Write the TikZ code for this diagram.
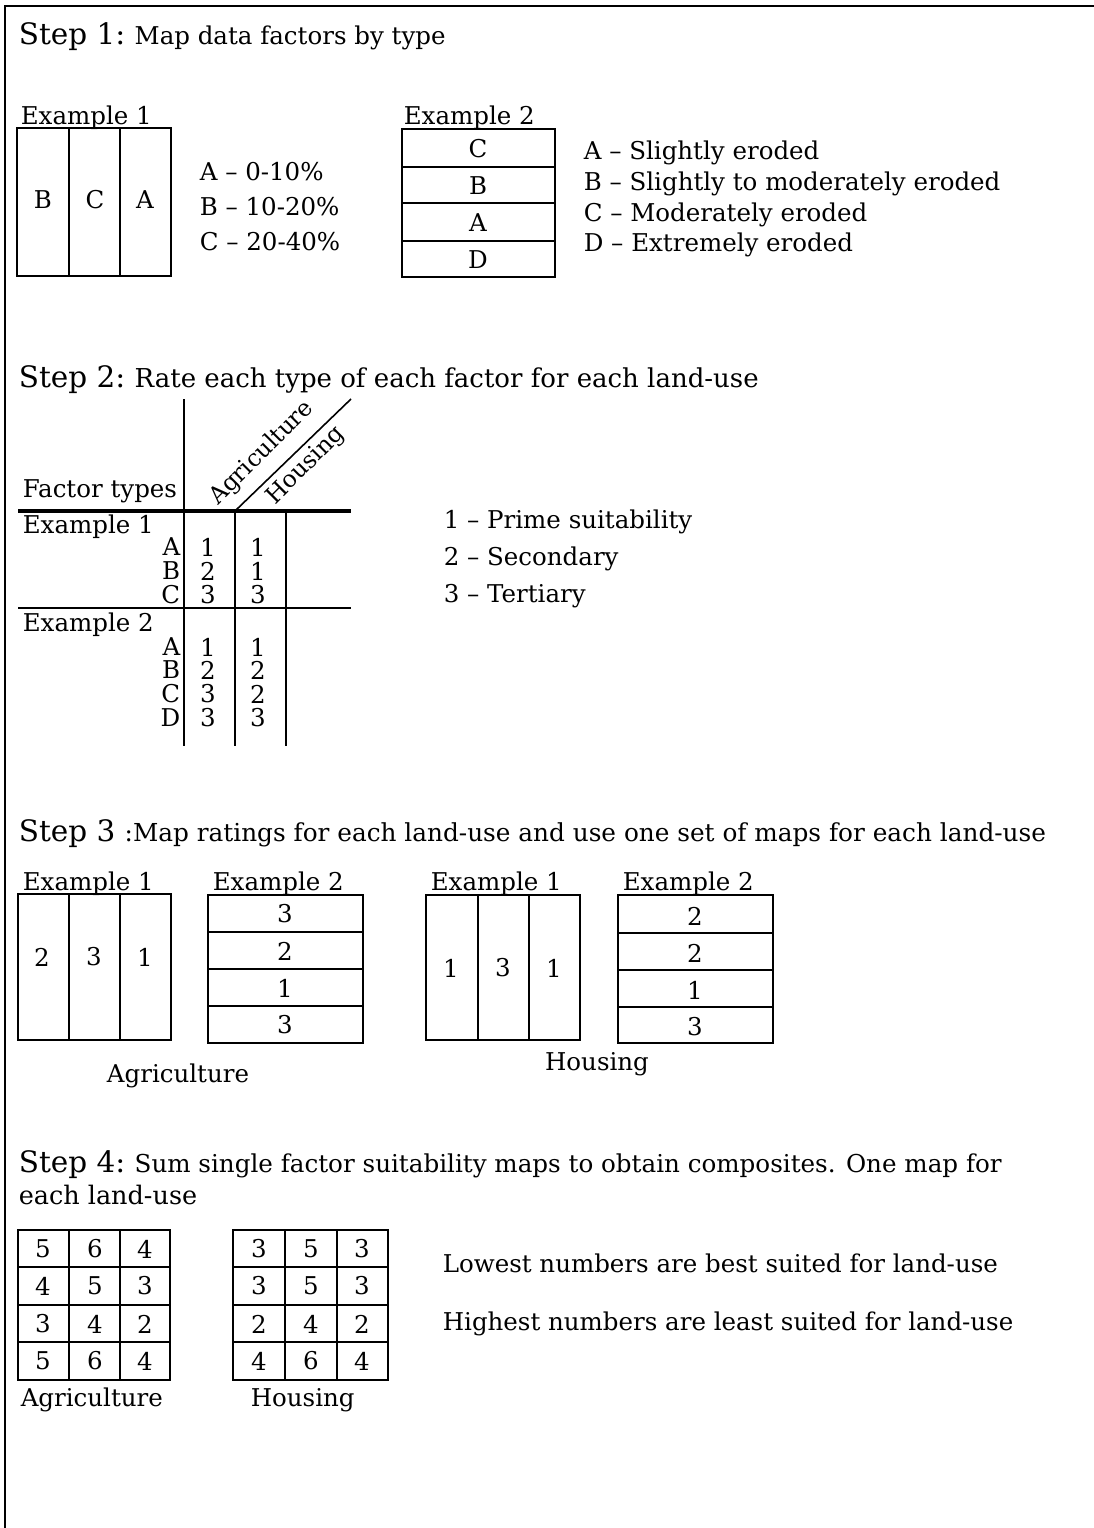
\documentclass[tikz,border=0pt]{standalone}
\usepackage{fontspec}
\setmainfont{DejaVu Serif}
\newcommand{\stepfont}{\fontsize{29.5}{34}\selectfont}
\newcommand{\fsz}[1]{\fontsize{#1}{#1}\selectfont}
\begin{document}
\begin{tikzpicture}[x=1pt,y=-1pt,line width=1.6pt,
  txt/.style={inner sep=0pt,font=\fontsize{24.5}{28}\selectfont},
  diag/.style={inner sep=0pt,font=\fontsize{23.5}{26}\selectfont,rotate=45},
  hd/.style={inner sep=0pt,anchor=base west},
  frame/.style={line width=1.3pt}]
\useasboundingbox (0,0) rectangle (1094,1528);
\draw[frame] (5,1528) -- (5,6) -- (1094,6);

% ---------- Step 1
\node[hd] (h1) at (18,45) {\stepfont Step 1:\ \fsz{24.5}Map data factors by type};
\node[txt,anchor=base west] (e11) at (20,124) {Example 1};
\draw (17,128) rectangle (171,276);
\draw (69,128) -- (69,276) (120,128) -- (120,276);
\node[txt] (s1b) at (43,200) {B};
\node[txt] (s1c) at (95,200) {C};
\node[txt] (s1a) at (145,200) {A};
\node[txt,anchor=west] (l1a) at (199,172) {A – 0-10\%};
\node[txt,anchor=west] (l1b) at (199,207) {B – 10-20\%};
\node[txt,anchor=west] (l1c) at (199,242) {C – 20-40\%};
\node[txt,anchor=base west] (e12) at (403,124) {Example 2};
\draw (402,129) rectangle (555,277);
\draw (402,167) -- (555,167) (402,203) -- (555,203) (402,241) -- (555,241);
\node[txt] (r2c) at (478,149) {C};
\node[txt] (r2b) at (478,186) {B};
\node[txt] (r2a) at (478,223) {A};
\node[txt] (r2d) at (478,260) {D};
\node[txt,anchor=west] (m1a) at (583,153) {A – Slightly eroded};
\node[txt,anchor=west] (m1b) at (583,184) {B – Slightly to moderately eroded};
\node[txt,anchor=west] (m1c) at (583,215) {C – Moderately eroded};
\node[txt,anchor=west] (m1d) at (583,245) {D – Extremely eroded};

% ---------- Step 2
\node[hd] (h2) at (18,387) {\stepfont Step 2:\ \fsz{26}Rate each type of each factor for each land-use};
\coordinate (v1t) at (184,399); \coordinate (v1b) at (184,746);
\coordinate (v2t) at (235,511); \coordinate (v2b) at (235,746);
\coordinate (v3t) at (286,511); \coordinate (v3b) at (286,746);
\coordinate (dt) at (351,399);
\draw (v1t) -- (v1b);
\draw (v2t) -- (v2b);
\draw (v3t) -- (v3b);
\draw (v2t) -- (dt);
\draw[line width=4.5pt] (18,511) -- (351,511);
\draw (18,608) -- (351,608);
\node[txt,anchor=base west] (ft) at (22,497) {Factor types};
\node[diag] (agr) at (262,453) {Agriculture};
\node[diag] (hou) at (306,466) {Housing};
\node[txt,anchor=west] (t1) at (22,527) {Example 1};
\foreach \n/\y/\a/\b in {A/547/1/1,B/571/2/1,C/595/3/3}{
  \node[txt,anchor=east] (t1\n) at (181,\y) {\n};
  \node[txt] (t1\n a) at (208,\y) {\a};
  \node[txt] (t1\n h) at (258,\y) {\b};
}
\node[txt,anchor=west] (t2) at (22,625) {Example 2};
\foreach \n/\y/\a/\b in {A/647/1/1,B/670/2/2,C/694/3/2,D/718/3/3}{
  \node[txt,anchor=east] (t2\n) at (181,\y) {\n};
  \node[txt] (t2\n a) at (208,\y) {\a};
  \node[txt] (t2\n h) at (258,\y) {\b};
}
\node[txt,anchor=west] (k1) at (443,522) {1 – Prime suitability};
\node[txt,anchor=west] (k2) at (443,559) {2 – Secondary};
\node[txt,anchor=west] (k3) at (443,596) {3 – Tertiary};

% ---------- Step 3
\node[hd] (h3) at (18,841) {\stepfont Step 3\ \fsz{24.75}:Map ratings for each land-use and use one set of maps for each land-use};
% agriculture ex1
\node[txt,anchor=base west] (a31) at (22,890) {Example 1};
\draw (18,894) rectangle (171,1040);
\draw (69,894) -- (69,1040) (120,894) -- (120,1040);
\node[txt] (a31a) at (42,957) {2};
\node[txt] (a31b) at (94,957) {3};
\node[txt] (a31c) at (145,957) {1};
% agriculture ex2
\node[txt,anchor=base west] (a32) at (212,890) {Example 2};
\draw (208,895) rectangle (363,1043);
\draw (208,932) -- (363,932) (208,969) -- (363,969) (208,1006) -- (363,1006);
\node[txt] (a32a) at (285,914) {3};
\node[txt] (a32b) at (285,951) {2};
\node[txt] (a32c) at (285,988) {1};
\node[txt] (a32d) at (285,1025) {3};
% housing ex1
\node[txt,anchor=base west] (h31) at (430,890) {Example 1};
\draw (426,895) rectangle (580,1040);
\draw (478,895) -- (478,1040) (529,895) -- (529,1040);
\node[txt] (h31a) at (451,968) {1};
\node[txt] (h31b) at (503,968) {3};
\node[txt] (h31c) at (554,968) {1};
% housing ex2
\node[txt,anchor=base west] (h32) at (622,890) {Example 2};
\draw (618,895) rectangle (773,1043);
\draw (618,933) -- (773,933) (618,970) -- (773,970) (618,1007) -- (773,1007);
\node[txt] (h32a) at (695,916) {2};
\node[txt] (h32b) at (695,953) {2};
\node[txt] (h32c) at (695,990) {1};
\node[txt] (h32d) at (695,1027) {3};
\node[txt] (agl) at (178,1076) {Agriculture};
\node[txt] (hol) at (597,1064) {Housing};

% ---------- Step 4
\node[hd] (h4) at (18,1172) {\stepfont Step 4:\ \fsz{24.6}Sum single factor suitability maps to obtain composites. One map for};
\node[hd] (h4b) at (18,1204) {\fsz{25.5}each land-use};
\draw (18,1230) rectangle (170,1380);
\draw (69,1230) -- (69,1380) (120,1230) -- (120,1380);
\draw (18,1267) -- (170,1267) (18,1305) -- (170,1305) (18,1342) -- (170,1342);
\draw (233,1230) rectangle (388,1380);
\draw (285,1230) -- (285,1380) (337,1230) -- (337,1380);
\draw (233,1267) -- (388,1267) (233,1305) -- (388,1305) (233,1342) -- (388,1342);
\foreach \r/\y/\a/\b/\c/\d/\e/\f in {1/1249/5/6/4/3/5/3,2/1286/4/5/3/3/5/3,3/1324/3/4/2/2/4/2,4/1361/5/6/4/4/6/4}{
  \node[txt] (ga\r1) at (43,\y) {\a};
  \node[txt] (ga\r2) at (95,\y) {\b};
  \node[txt] (ga\r3) at (145,\y) {\c};
  \node[txt] (gh\r1) at (259,\y) {\d};
  \node[txt] (gh\r2) at (311,\y) {\e};
  \node[txt] (gh\r3) at (362,\y) {\f};
}
\node[txt,anchor=west] (g4a) at (20,1400) {Agriculture};
\node[txt,anchor=west] (g4h) at (250,1400) {Housing};
\node[txt,anchor=west] (n1) at (442,1263) {Lowest numbers are best suited for land-use};
\node[txt,anchor=west] (n2) at (442,1324) {Highest numbers are least suited for land-use};
\end{tikzpicture}
\end{document}
